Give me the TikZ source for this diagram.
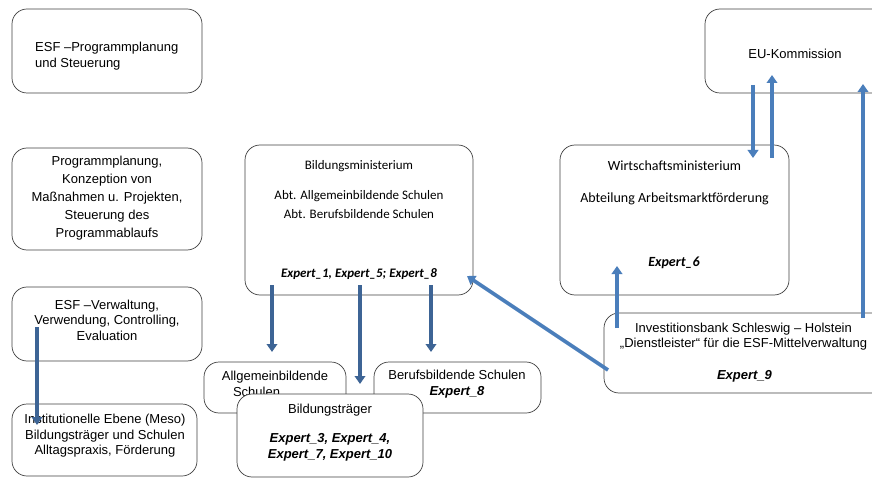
\documentclass[tikz,border=0pt]{standalone}
\usepackage{fontspec}
\setmainfont{Liberation Sans}
\newfontfamily\calibri{Carlito}
\usetikzlibrary{arrows.meta}
\definecolor{darkarrow}{HTML}{3D6495}
\definecolor{lightarrow}{HTML}{4A7EBB}
\definecolor{boxline}{HTML}{404040}
\begin{document}
\begin{tikzpicture}[x=1pt,y=-1pt,
  box/.style={draw=boxline, line width=0.7pt, rounded corners=15pt, fill=white, inner sep=0pt},
  txt/.style={font=\fontsize{13}{15.5}\selectfont, align=center, inner sep=0pt},
  ctxt/.style={font=\calibri\fontsize{13}{15}\selectfont, inner sep=0pt},
  darr/.style={draw=darkarrow, line width=3.7pt, -{Triangle[width=10.5pt,length=8pt]}},
  larr/.style={draw=lightarrow, line width=3.7pt, -{Triangle[width=10.5pt,length=8pt]}}]
\useasboundingbox (0,0) rectangle (872,478);
\clip (0,0) rectangle (872,478);

% left column
\node[box, minimum width=190pt, minimum height=84pt] (b1) at (107,51) {};
\node[txt, align=left, anchor=west] (t1) at (35,56) {ESF –Programmplanung\\und Steuerung};

\node[box, minimum width=190pt, minimum height=102pt] (b2) at (107,199) {};
\node[txt, font=\fontsize{13}{18}\selectfont] (t2) at (107,198) {Programmplanung,\\Konzeption von\\Maßnahmen u. Projekten,\\Steuerung des\\Programmablaufs};

\node[box, minimum width=190pt, minimum height=74pt] (b3) at (107,324) {};
\node[txt] (t3) at (107,320) {ESF –Verwaltung,\\Verwendung, Controlling,\\Evaluation};

\node[box, minimum width=185pt, minimum height=72pt] (b4) at (104.5,440) {};
\node[txt] (t4) at (105,436) {Institutionelle Ebene (Meso)\\Bildungsträger und Schulen\\Alltagspraxis, Förderung};

% Bildungsministerium
\node[box, minimum width=228pt, minimum height=150pt] (bm) at (359,220) {};
\node[ctxt] (bm1) at (359,166) {Bildungsministerium};
\node[ctxt] (bm2) at (359,196) {Abt. Allgemeinbildende Schulen};
\node[ctxt] (bm3) at (359,214) {Abt. Berufsbildende Schulen};
\node[ctxt, font=\calibri\bfseries\itshape\fontsize{13}{15}\selectfont] (bm4) at (359,274) {Expert\_1, Expert\_5; Expert\_8};

% schools
\node[box, minimum width=142pt, minimum height=51pt] (allg) at (275,387.5) {};
\node[txt] (allgt) at (275,384) {Allgemeinbildende\\Schulen\hspace*{37pt}};

\node[box, minimum width=167pt, minimum height=51pt] (beruf) at (457.5,387.5) {};
\node[txt] (beruft) at (457,384) {Berufsbildende Schulen\\\textbf{\textit{Expert\_8}}};

\node[box, minimum width=186pt, minimum height=83pt] (bt) at (330,435.5) {};
\node[txt] (bt1) at (330,410) {Bildungsträger};
\node[txt, font=\bfseries\itshape\fontsize{13}{15.5}\selectfont] (bt2) at (330,447.5) {Expert\_3, Expert\_4,\\Expert\_7, Expert\_10};

% right side
\node[box, minimum width=200pt, minimum height=84pt] (eu) at (805,51) {};
\node[txt] (eut) at (795,54) {EU-Kommission};

\node[box, minimum width=229pt, minimum height=150pt] (wm) at (674.5,220) {};
\node[ctxt, font=\calibri\fontsize{14}{16}\selectfont] (wm1) at (674.5,166) {Wirtschaftsministerium};
\node[ctxt, font=\calibri\fontsize{14}{16}\selectfont] (wm2) at (674.5,199) {Abteilung Arbeitsmarktförderung};
\node[ctxt, font=\calibri\bfseries\itshape\fontsize{14}{16}\selectfont] (wm3) at (674,263) {Expert\_6};

\node[box, minimum width=300pt, minimum height=80pt] (ib) at (754,353) {};
\node[txt] (ib1) at (743.5,336.5) {Investitionsbank Schleswig – Holstein\\„Dienstleister“ für die ESF-Mittelverwaltung};
\node[txt, font=\bfseries\itshape\fontsize{13}{15.5}\selectfont] (ib2) at (744.5,376) {Expert\_9};

% arrow end points
\coordinate (a1s) at (37,327);  \coordinate (a1e) at (37,425);
\coordinate (a2s) at (272,285); \coordinate (a2e) at (272,352);
\coordinate (a3s) at (360,285); \coordinate (a3e) at (360,384);
\coordinate (a4s) at (431,285); \coordinate (a4e) at (431,352);
\coordinate (a5s) at (608,370); \coordinate (a5e) at (467,276);
\coordinate (a6s) at (617,328); \coordinate (a6e) at (617,266);
\coordinate (a7s) at (863,318); \coordinate (a7e) at (863,84);
\coordinate (a8s) at (753,85);  \coordinate (a8e) at (753,158);
\coordinate (a9s) at (772,158); \coordinate (a9e) at (772,75);

\draw[darr] (a1s) -- (a1e);
\draw[darr] (a2s) -- (a2e);
\draw[darr] (a3s) -- (a3e);
\draw[darr] (a4s) -- (a4e);
\draw[larr] (a5s) -- (a5e);
\draw[larr] (a6s) -- (a6e);
\draw[larr] (a7s) -- (a7e);
\draw[larr] (a8s) -- (a8e);
\draw[larr] (a9s) -- (a9e);
\end{tikzpicture}
\end{document}
